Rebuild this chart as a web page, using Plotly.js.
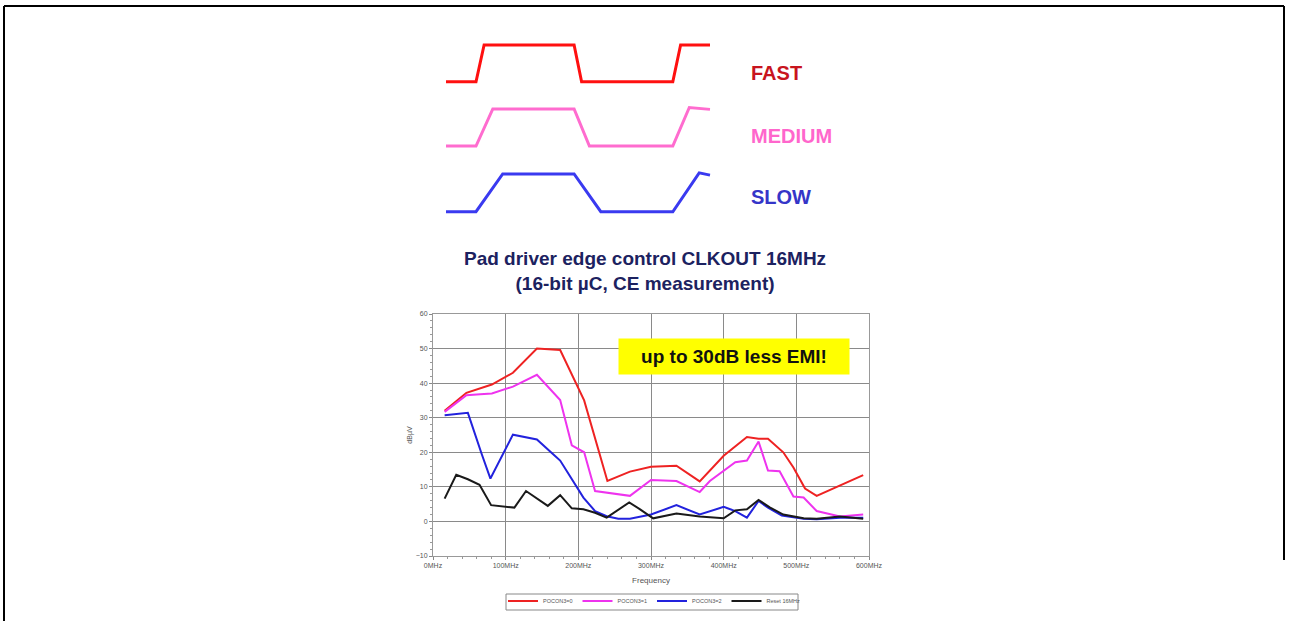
<!DOCTYPE html>
<html>
<head>
<meta charset="utf-8">
<script src="https://cdn.plot.ly/plotly-3.0.1.min.js"></script>
<style>html,body{margin:0;padding:0;background:#fff;}#chart{width:1289px;height:621px;}</style>
</head>
<body>
<div id="chart"></div>
<script>
// ---- EMI spectrum data (frequency in MHz, level in dBµV) ----
const fastX   = [16, 46, 81, 110, 143, 175, 208, 240, 271, 300, 335, 367, 400, 432, 448, 461, 482, 496, 512, 528, 592];
const fastY   = [32, 37.2, 39.6, 43, 50, 49.6, 35, 11.7, 14.4, 15.8, 16.1, 11.6, 19, 24.4, 23.9, 23.9, 20, 15.6, 9.5, 7.4, 13.4];
const mediumX = [16, 46, 65, 81, 110, 143, 175, 191, 208, 223, 271, 300, 335, 367, 381, 400, 416, 432, 448, 461, 477, 496, 510, 528, 560, 592];
const mediumY = [31.7, 36.5, 36.8, 37, 39, 42.4, 35.1, 22, 20, 8.8, 7.4, 12, 11.7, 8.5, 11.7, 14.7, 17.1, 17.6, 23.1, 14.7, 14.5, 7.2, 6.9, 3, 1.4, 2];
const slowX   = [16, 48, 67, 79, 110, 143, 165, 175, 207, 223, 239, 255, 271, 300, 335, 367, 400, 416, 432, 448, 461, 480, 510, 528, 560, 592];
const slowY   = [30.7, 31.4, 19.5, 12.4, 25.1, 23.7, 19.5, 17.6, 6.9, 3, 1.5, 0.8, 0.8, 2, 4.7, 2, 4.2, 3, 1.1, 5.9, 4, 1.7, 0.8, 0.6, 1.1, 1.1];
const resetX  = [16, 32, 48, 64, 80, 96, 112, 128, 143, 158, 175, 191, 207, 223, 239, 270, 285, 303, 335, 367, 400, 416, 432, 448, 464, 482, 510, 528, 560, 592];
const resetY  = [6.6, 13.5, 12.2, 10.6, 4.7, 4.3, 4, 8.8, 6.6, 4.5, 7.6, 3.8, 3.5, 2.5, 1.1, 5.5, 3.5, 0.9, 2.3, 1.4, 0.9, 3.2, 3.5, 6.2, 4, 2, 0.9, 0.8, 1.4, 0.8];
const seriesNames = ["POCON3=0", "POCON3=1", "POCON3=2", "Reset 16MHz"];

const xTickVals  = [0, 100, 200, 300, 400, 500, 600];
const xTickText  = ["0MHz", "100MHz", "200MHz", "300MHz", "400MHz", "500MHz", "600MHz"];
const yTickVals  = [-10, 0, 10, 20, 30, 40, 50, 60];

// ---- Edge waveform sketches (time units, logic level 0..1) ----
const waveFastT   = [0, 1, 1.27, 4.27, 4.52, 7.56, 7.82, 8.8];
const waveFastL   = [0, 0, 1, 1, 0, 0, 1, 1];
const waveMediumT = [0, 1, 1.56, 4.27, 4.78, 7.56, 8.11, 8.8];
const waveMediumL = [0, 0, 1, 1, 0, 0, 1.04, 0.99];
const waveSlowT   = [0, 1, 1.89, 4.27, 5.16, 7.56, 8.44, 8.8];
const waveSlowL   = [0, 0, 1, 1, 0, 0, 1.03, 0.97];
const waveLabels  = ["FAST", "MEDIUM", "SLOW"];

const title1 = "Pad driver edge control CLKOUT 16MHz";
const title2 = "(16-bit µC, CE measurement)";
const callout = "up to 30dB less EMI!";

const cFast = "#ee2222", cMed = "#ee33ee", cSlow = "#2222dd", cReset = "#1a1a1a";

const traces = [
  {x: fastX, y: fastY, name: seriesNames[0], mode: "lines", line: {color: cFast, width: 2}, xaxis: "x", yaxis: "y"},
  {x: mediumX, y: mediumY, name: seriesNames[1], mode: "lines", line: {color: cMed, width: 2}, xaxis: "x", yaxis: "y"},
  {x: slowX, y: slowY, name: seriesNames[2], mode: "lines", line: {color: cSlow, width: 2}, xaxis: "x", yaxis: "y"},
  {x: resetX, y: resetY, name: seriesNames[3], mode: "lines", line: {color: cReset, width: 2}, xaxis: "x", yaxis: "y"},
  {x: waveFastT, y: waveFastL, mode: "lines", line: {color: "#ff1010", width: 3}, xaxis: "x2", yaxis: "y2", showlegend: false, hoverinfo: "skip"},
  {x: waveMediumT, y: waveMediumL, mode: "lines", line: {color: "#ff6ccf", width: 3}, xaxis: "x2", yaxis: "y3", showlegend: false, hoverinfo: "skip"},
  {x: waveSlowT, y: waveSlowL, mode: "lines", line: {color: "#3a3af0", width: 3}, xaxis: "x2", yaxis: "y4", showlegend: false, hoverinfo: "skip"}
];

const W = 1289, H = 621;
const px = v => v / W;
const py = v => 1 - v / H;

const hidden = {visible: false, fixedrange: true};

const layout = {
  width: W, height: H,
  margin: {l: 0, r: 0, t: 0, b: 0},
  paper_bgcolor: "#ffffff",
  plot_bgcolor: "#ffffff",
  showlegend: true,
  font: {family: "Liberation Sans, Arial, sans-serif", color: "#555"},
  xaxis: {
    domain: [px(433), px(869)], range: [0, 600],
    tickvals: xTickVals, ticktext: xTickText,
    tickfont: {size: 7, color: "#555"},
    showgrid: true, gridcolor: "#8a8a8a", gridwidth: 1,
    showline: true, linecolor: "#999", linewidth: 1, mirror: true,
    ticks: "outside", ticklen: 3, tickcolor: "#888",
    minor: {dtick: 20, ticks: "outside", ticklen: 2, tickcolor: "#999", showgrid: false},
    zeroline: false,
    title: {text: "Frequency", font: {size: 8, color: "#555"}, standoff: 8},
    anchor: "y"
  },
  yaxis: {
    domain: [py(556), py(314)], range: [-10, 60],
    tickvals: yTickVals,
    tickfont: {size: 7, color: "#555"},
    showgrid: true, gridcolor: "#8a8a8a", gridwidth: 1,
    showline: true, linecolor: "#999", linewidth: 1, mirror: true,
    ticks: "outside", ticklen: 3, tickcolor: "#888",
    minor: {dtick: 2, ticks: "outside", ticklen: 2, tickcolor: "#999", showgrid: false},
    zeroline: false,
    title: {text: "dBµV", font: {size: 7, color: "#555"}, standoff: 2},
    anchor: "x"
  },
  xaxis2: Object.assign({domain: [px(440), px(716)], range: [-0.2, 9.0], anchor: "y2"}, hidden),
  yaxis2: Object.assign({domain: [py(85.4), py(41.3)], range: [-0.1, 1.1], anchor: "x2"}, hidden),
  yaxis3: Object.assign({domain: [py(149.7), py(105.3)], range: [-0.1, 1.1], anchor: "x2"}, hidden),
  yaxis4: Object.assign({domain: [py(215.5), py(170.2)], range: [-0.1, 1.1], anchor: "x2"}, hidden),
  legend: {
    orientation: "h",
    x: px(503), xanchor: "left",
    y: py(586.5), yanchor: "top",
    bgcolor: "rgba(0,0,0,0)", borderwidth: 0,
    font: {size: 5.5, color: "#555"},
    itemwidth: 30,
    tracegroupgap: 0
  },
  annotations: [
    {text: "<b>" + waveLabels[0] + "</b>", xref: "paper", yref: "paper", x: px(749), y: py(73), xanchor: "left", yanchor: "middle", showarrow: false, font: {size: 20, color: "#c8141e", family: "Liberation Sans, Arial, sans-serif"}},
    {text: "<b>" + waveLabels[1] + "</b>", xref: "paper", yref: "paper", x: px(749), y: py(136), xanchor: "left", yanchor: "middle", showarrow: false, font: {size: 20, color: "#ff66cc", family: "Liberation Sans, Arial, sans-serif"}},
    {text: "<b>" + waveLabels[2] + "</b>", xref: "paper", yref: "paper", x: px(749), y: py(197), xanchor: "left", yanchor: "middle", showarrow: false, font: {size: 20, color: "#3535c8", family: "Liberation Sans, Arial, sans-serif"}},
    {text: "<b>" + title1 + "</b><br><b>" + title2 + "</b>", xref: "paper", yref: "paper", x: px(645), y: py(271), xanchor: "center", yanchor: "middle", showarrow: false, align: "center", font: {size: 19, color: "#1c2260", family: "Liberation Sans, Arial, sans-serif"}},
    {text: "<b>" + callout + "</b>", xref: "paper", yref: "paper", x: px(733.5), y: py(356), xanchor: "center", yanchor: "middle", showarrow: false, bgcolor: "#ffff00", width: 228, height: 33, font: {size: 19, color: "#111", family: "Liberation Sans, Arial, sans-serif"}}
  ],
  shapes: [
    {type: "line", xref: "paper", yref: "paper", x0: px(4), x1: px(1284), y0: py(6), y1: py(6), line: {color: "#000", width: 2}},
    {type: "line", xref: "paper", yref: "paper", x0: px(4), x1: px(4), y0: py(6), y1: 0, line: {color: "#000", width: 2}},
    {type: "line", xref: "paper", yref: "paper", x0: px(1284), x1: px(1284), y0: py(6), y1: py(560), line: {color: "#000", width: 2}},
    {type: "rect", xref: "paper", yref: "paper", x0: px(506), x1: px(798), y0: py(610), y1: py(594), line: {color: "#888", width: 1}, fillcolor: "rgba(0,0,0,0)", layer: "below"}
  ]
};

Plotly.newPlot("chart", traces, layout, {staticPlot: true, displayModeBar: false});
</script>
</body>
</html>
